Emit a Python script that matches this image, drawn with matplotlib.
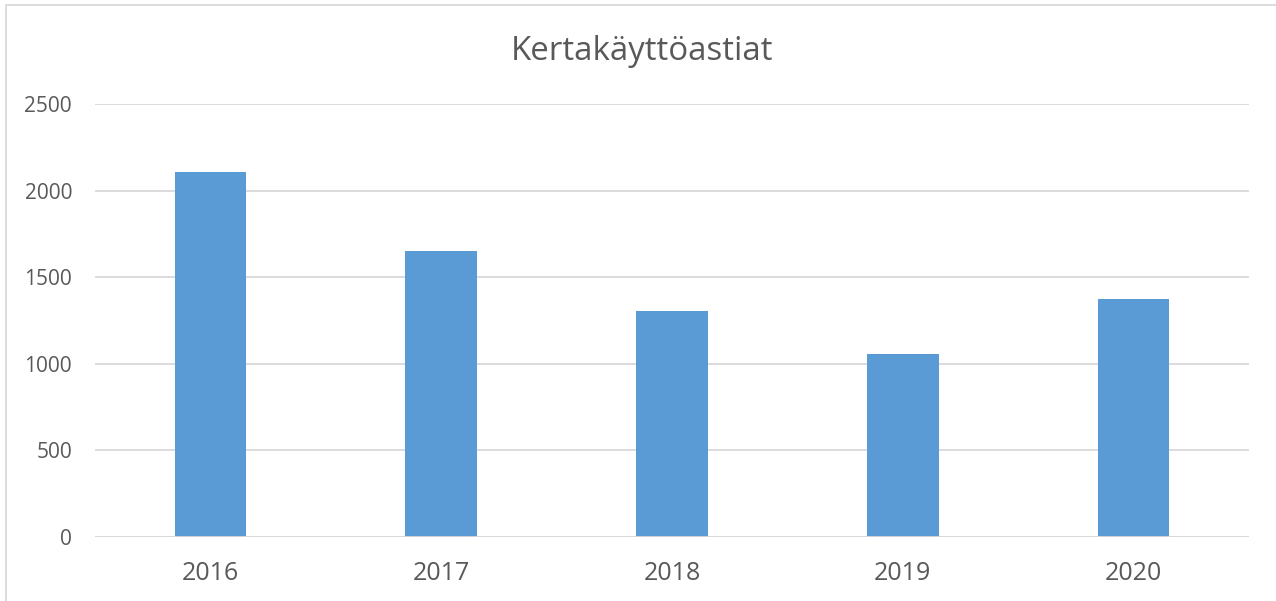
import matplotlib
matplotlib.use("Agg")
import matplotlib.pyplot as plt
from matplotlib.patches import Rectangle

years = ["2016", "2017", "2018", "2019", "2020"]
values = [2108, 1651, 1305, 1056, 1373]
title = "Kertakäyttöastiat"
yticks = [0, 500, 1000, 1500, 2000, 2500]

plt.rcParams['font.family'] = ['Open Sans', 'DejaVu Sans']
W, H = 1276, 601
fig = plt.figure(figsize=(W/100, H/100), dpi=100)
ax = fig.add_axes([95/W, 1-537/H, (1249-95)/W, (537-104)/H])

x = range(len(years))
ax.bar(x, values, width=0.31, color="#5B9BD5", zorder=3)
ax.set_xlim(-0.5, len(years)-0.5)
ax.set_ylim(0, 2500)
ax.set_yticks(yticks)
ax.set_xticks(list(x))
ax.set_xticklabels(years, fontsize=18, color="#595959")
ax.set_yticklabels([str(v) for v in yticks], fontsize=15, color="#595959")
ax.tick_params(axis='both', length=0)
ax.tick_params(axis='y', pad=16.5)
ax.tick_params(axis='x', pad=17)
ax.grid(axis='y', color="#D9D9D9", linewidth=1.3, zorder=0)
for s in ax.spines.values():
    s.set_visible(False)
ax.axhline(0, color="#D9D9D9", linewidth=1.3, zorder=4)

fig.text(642/W, 1-51/H, title, ha='center', va='center', fontsize=23.8, color="#595959")
fig.patches.append(Rectangle((6/W, -0.1), 1.2, 1-5/H+0.1, transform=fig.transFigure,
                             fill=False, edgecolor="#D9D9D9", linewidth=1.3))
fig.savefig("out.png", dpi=100)
